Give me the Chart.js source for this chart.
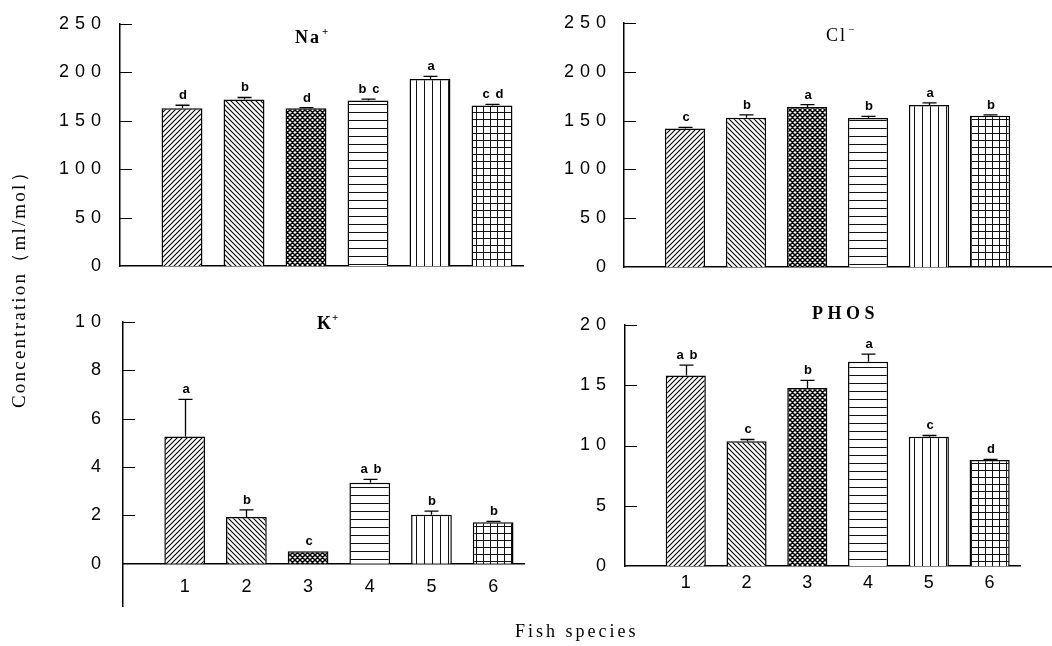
<!DOCTYPE html>
<html>
<head>
<meta charset="utf-8">
<script src="https://cdn.jsdelivr.net/npm/chart.js@4.4.1/dist/chart.umd.min.js"></script>
<style>
  body { margin: 0; background: #fff; width: 1052px; height: 646px; position: relative; overflow: hidden; }
  canvas { position: absolute; }
  .t { position: absolute; font-family: "Liberation Serif", "Times New Roman", serif; font-size: 18px; line-height: 18px; color: #000; white-space: nowrap; }
  .t .sup { font-size: 11px; vertical-align: 8px; margin-left: 1px; }
</style>
</head>
<body>
<canvas id="na" width="530" height="290" style="left:0;top:0"></canvas>
<canvas id="cl" width="522" height="290" style="left:530px;top:0"></canvas>
<canvas id="k" width="530" height="338" style="left:0;top:295px"></canvas>
<canvas id="phos" width="522" height="320" style="left:530px;top:295px"></canvas>

<div class="t" style="left:295px;top:22px;font-weight:bold;letter-spacing:2px">Na<span class="sup">+</span></div>
<div class="t" style="left:826px;top:20px;letter-spacing:2px">Cl<span class="sup">−</span></div>
<div class="t" style="left:317px;top:308px;font-weight:bold">K<span class="sup">+</span></div>
<div class="t" style="left:812px;top:304px;font-weight:bold;letter-spacing:4.5px">PHOS</div>
<div class="t" style="left:515px;top:622px;letter-spacing:3px">Fish species</div>
<div class="t" style="left:9px;top:408px;font-size:19px;line-height:19px;letter-spacing:2.2px;transform-origin:0 0;transform:rotate(-90deg)">Concentration（ml/mol）</div>

<script>
// fish species on the x axis
const species = [1, 2, 3, 4, 5, 6];

// Na+ (top left)
const naMean = [163, 171.8, 162.8, 171, 193, 165.7];
const naSE = [3, 2.2, 0.7, 1.4, 2.8, 1.3];
const naLetters = ['d', 'b', 'd', 'b c', 'a', 'c d'];

// Cl- (top right)
const clMean = [142, 153, 163.8, 152.6, 166, 155];
const clSE = [1, 2.8, 2.6, 1.6, 2, 0.8];
const clLetters = ['c', 'b', 'a', 'b', 'a', 'b'];

// K+ (bottom left)
const kMean = [5.27, 1.94, 0.52, 3.35, 2.03, 1.72];
const kSE = [1.53, 0.29, 0, 0.14, 0.15, 0.04];
const kLetters = ['a', 'b', 'c', 'a b', 'b', 'b'];

// PHOS (bottom right)
const phosMean = [15.8, 10.36, 14.78, 16.94, 10.72, 8.8];
const phosSE = [0.87, 0.14, 0.62, 0.64, 0.11, 0.05];
const phosLetters = ['a b', 'c', 'b', 'a', 'c', 'd'];

// y tick values
const naTicks = [0, 50, 100, 150, 200, 250];
const clTicks = [0, 50, 100, 150, 200, 250];
const kTicks = [0, 2, 4, 6, 8, 10];
const phosTicks = [0, 5, 10, 15, 20];

Chart.defaults.font.family = '"Liberation Sans", Arial, sans-serif';
Chart.defaults.color = '#000';

// hatch fills, one per species
function makePattern(kind) {
  const s = { fwd: 5, back: 5, cross: 5, horiz: 8, vert: 8, grid: 7 }[kind];
  const c = document.createElement('canvas');
  c.width = s; c.height = s;
  const g = c.getContext('2d');
  g.fillStyle = '#fff';
  g.fillRect(0, 0, s, s);
  g.strokeStyle = '#000';
  g.fillStyle = '#111';
  g.lineWidth = kind == 'cross' ? 1.5 : 1.1;
  g.beginPath();
  if (kind == 'fwd' || kind == 'cross') {
    for (let k = 0; k <= 2; k++) { g.moveTo(-s, k * s + s); g.lineTo(k * s + s, -s); }
  }
  if (kind == 'back' || kind == 'cross') {
    for (let k = -1; k <= 1; k++) { g.moveTo(k * s - s, -s); g.lineTo(k * s + 2 * s, 2 * s); }
  }
  g.stroke();
  if (kind == 'horiz' || kind == 'grid') g.fillRect(0, 0, s, 1);
  if (kind == 'vert' || kind == 'grid') g.fillRect(0, 0, 1, s);
  return g.createPattern(c, 'repeat');
}
const fills = ['fwd', 'back', 'cross', 'horiz', 'vert', 'grid'].map(makePattern);

// error bars, letters and inward y ticks
function makeExtras(means, se, letters) {
  return {
    id: 'extras',
    beforeDraw(chart) { chart.ctx.letterSpacing = '6px'; },
    afterDraw(chart) {
      const ctx = chart.ctx, xs = chart.scales.x, ys = chart.scales.y;
      ctx.save();
      ctx.strokeStyle = '#000';
      ctx.lineWidth = 1;
      ys.ticks.forEach(t => {
        if (t.value == 0) return;
        const py = Math.round(ys.getPixelForValue(t.value)) + 0.5;
        ctx.beginPath();
        ctx.moveTo(ys.right, py);
        ctx.lineTo(ys.right + 12, py);
        ctx.stroke();
      });
      ctx.lineWidth = 1.3;
      ctx.font = 'bold 13px "Liberation Sans", Arial, sans-serif';
      ctx.letterSpacing = '1px';
      ctx.textAlign = 'center';
      ctx.textBaseline = 'alphabetic';
      ctx.fillStyle = '#000';
      species.forEach((s, i) => {
        const px = Math.round(xs.getPixelForValue(s)) + 0.5;
        const y0 = ys.getPixelForValue(means[i]);
        const y1 = ys.getPixelForValue(means[i] + se[i]);
        if (se[i] > 0) {
          ctx.beginPath();
          ctx.moveTo(px, y0);
          ctx.lineTo(px, y1);
          ctx.moveTo(px - 7, y1);
          ctx.lineTo(px + 7, y1);
          ctx.stroke();
        }
        ctx.fillText(letters[i], px + 1, y1 - 6);
      });
      ctx.restore();
    }
  };
}

// p: canvas rect and plot rect in page pixels (xh = room the x axis still takes when it sits at y = 0)
function makePanel(id, p, means, se, letters, yTicks, yMin, xMax, showX, xAtZero) {
  const yMax = yTicks[yTicks.length - 1];
  new Chart(document.getElementById(id), {
    type: 'bar',
    data: {
      datasets: [{
        data: species.map((s, i) => ({ x: s, y: means[i] })),
        backgroundColor: fills,
        borderColor: '#000',
        borderWidth: 1.5,
        barPercentage: 0.66,
        categoryPercentage: 1
      }]
    },
    options: {
      responsive: false,
      animation: false,
      devicePixelRatio: 1,
      layout: {
        padding: {
          left: 0,
          top: p.top - p.ct,
          right: p.cl + p.cw - p.right,
          bottom: xAtZero ? p.ct + p.ch - p.bottom - p.xh : 0
        }
      },
      plugins: { legend: { display: false }, tooltip: { enabled: false } },
      scales: {
        x: {
          type: 'linear',
          min: 0,
          max: xMax,
          offset: false,
          position: xAtZero ? { y: 0 } : 'bottom',
          grid: { display: false, drawTicks: false, offset: false },
          border: { color: '#000', width: 1.5 },
          ticks: {
            display: showX,
            padding: p.xpad || 8,
            labelOffset: 3,
            autoSkip: false,
            font: { size: 18 }
          },
          afterBuildTicks: s => { s.ticks = species.map(v => ({ value: v })); },
          afterFit: s => { if (!xAtZero) s.height = p.ct + p.ch - p.bottom; }
        },
        y: {
          min: yMin,
          max: yMax,
          grid: { display: false, drawTicks: false },
          border: { color: '#000', width: 1.5 },
          ticks: { padding: p.ypad, font: { size: 18 } },
          afterBuildTicks: s => { s.ticks = yTicks.map(v => ({ value: v })); },
          afterFit: s => { s.width = p.left - p.cl; }
        }
      }
    },
    plugins: [makeExtras(means, se, letters)]
  });
}

makePanel('na', { cl: 0, ct: 0, cw: 530, ch: 290, left: 120, top: 16, right: 523, bottom: 277, ypad: 13 },
  naMean, naSE, naLetters, naTicks, 0, 6.5, false, false);
makePanel('cl', { cl: 530, ct: 0, cw: 522, ch: 290, left: 624, top: 16, right: 1051, bottom: 277, ypad: 12 },
  clMean, clSE, clLetters, clTicks, 0, 7, false, false);
makePanel('k', { cl: 0, ct: 295, cw: 530, ch: 338, left: 123, top: 322, right: 524, bottom: 606, ypad: 16, xpad: 12, xh: 18 },
  kMean, kSE, kLetters, kTicks, -1.75, 6.5, true, true);
makePanel('phos', { cl: 530, ct: 295, cw: 522, ch: 320, left: 625, top: 325, right: 1020, bottom: 566, ypad: 13, xpad: 6 },
  phosMean, phosSE, phosLetters, phosTicks, 0, 6.5, true, false);
</script>
</body>
</html>
